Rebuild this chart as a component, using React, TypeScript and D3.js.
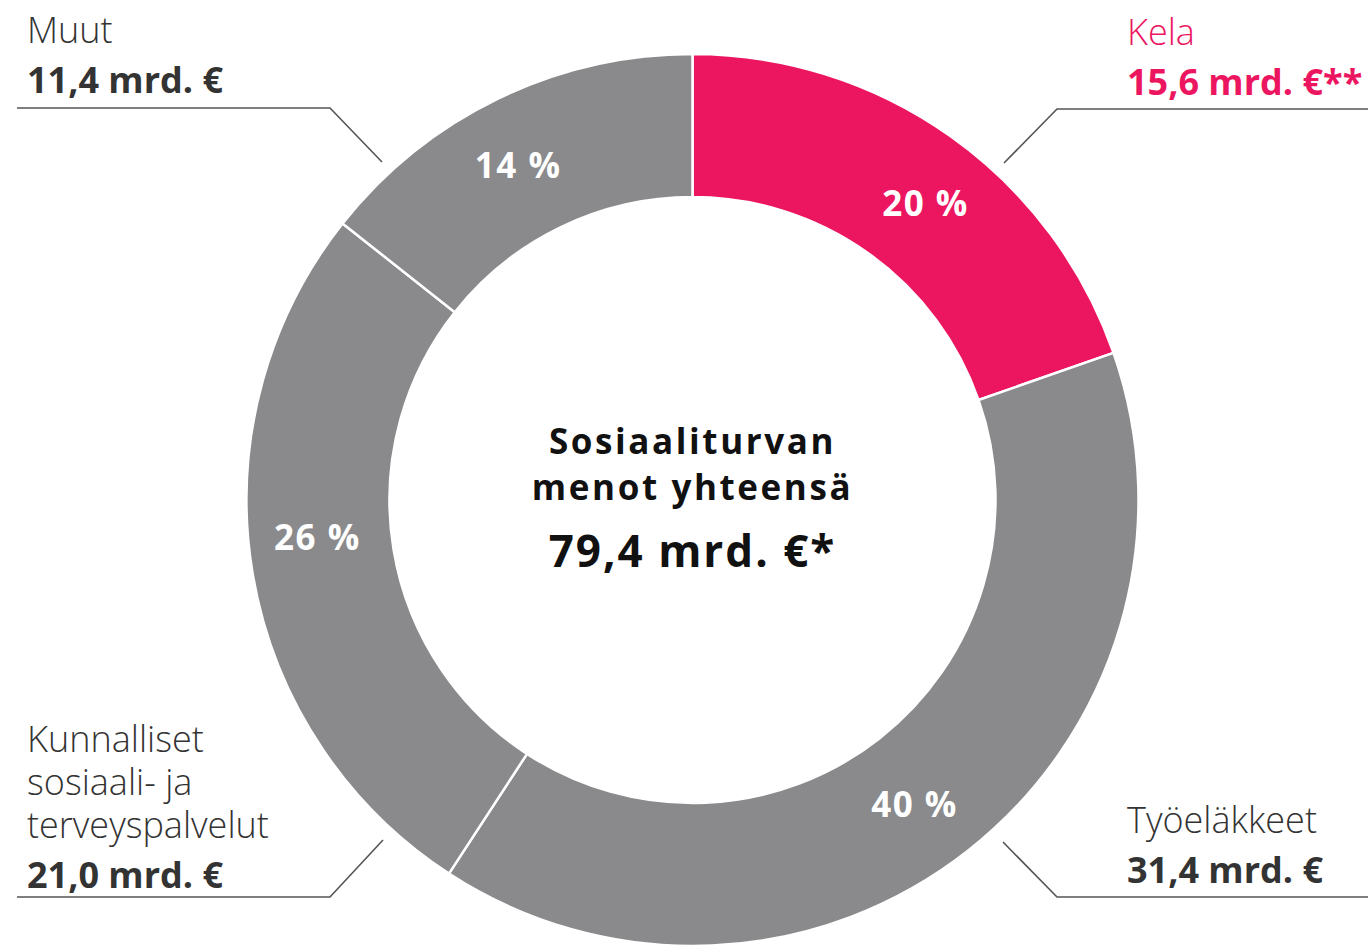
import React from "react";
import * as d3 from "d3";

const categories = ["Kela", "Työeläkkeet", "Kunnalliset sosiaali- ja terveyspalvelut", "Muut"];
const labelLines = [["Kela"], ["Työeläkkeet"], ["Kunnalliset", "sosiaali- ja", "terveyspalvelut"], ["Muut"]];
const values = [15.6, 31.4, 21.0, 11.4];
const valueLabels = ["15,6 mrd. €**", "31,4 mrd. €", "21,0 mrd. €", "11,4 mrd. €"];
const totalLabel = "79,4 mrd. €*";
const centerTitle = ["Sosiaaliturvan", "menot yhteensä"];

const W = 1369;
const H = 950;
const CX = 692.5;
const CY = 500;
const R_OUT = 446;
const R_IN = 303;
const R_LABEL = 377;
const PINK = "#ec1660";
const GRAY = "#8a8a8c";
const DARK = "#333333";
const FONT = "'Open Sans', 'Noto Sans', sans-serif";

// small angular nudges (degrees) for the in-ring percentage labels
const pctNudge = [2.8, 2.0, 3.6, -1.7];

// annotation layout (text anchor x, first baseline y, leader line points)
const annot = [
  { x: 1127, y: 45, line: [[1368, 109], [1057, 109], [1004, 163]] },
  { x: 1127, y: 833, line: [[1368, 897], [1057, 897], [1003, 842]] },
  { x: 27, y: 752, line: [[17, 897], [330, 897], [383, 840]] },
  { x: 27, y: 43, line: [[17, 108], [330, 108], [382, 162]] },
];

export default function App() {
  const total = d3.sum(values);
  const pie = d3.pie<number>().sort(null).value((d) => d).startAngle(0).endAngle(2 * Math.PI);
  const arcs = pie(values);
  const arc = d3.arc<d3.PieArcDatum<number>>().innerRadius(R_IN).outerRadius(R_OUT);
  const color = (i: number) => (i === 0 ? PINK : GRAY);
  const line = d3.line();

  return (
    <svg width={W} height={H} style={{ position: "absolute", left: 0, top: 0, background: "#fff" }}>
      <g transform={`translate(${CX},${CY})`}>
        {arcs.map((a, i) => (
          <path key={categories[i]} d={arc(a) || ""} fill={color(i)} stroke="#fff" strokeWidth={2.5} />
        ))}
        {arcs.map((a, i) => {
          const ang = (a.startAngle + a.endAngle) / 2 + (pctNudge[i] * Math.PI) / 180;
          const x = R_LABEL * Math.sin(ang);
          const y = -R_LABEL * Math.cos(ang);
          return (
            <text
              key={"p" + i}
              x={x}
              y={y}
              dy="0.36em"
              textAnchor="middle"
              fill="#fff"
              fontFamily={FONT}
              fontWeight={700}
              fontSize={35}
              letterSpacing={1.5}
            >
              {Math.round((values[i] / total) * 100) + " %"}
            </text>
          );
        })}
        <text textAnchor="middle" fontFamily={FONT} fontWeight={700} fill="#111" fontSize={35} letterSpacing={2.6}>
          <tspan x={0} y={-46}>{centerTitle[0]}</tspan>
          <tspan x={0} y={0}>{centerTitle[1]}</tspan>
        </text>
        <text x={0} y={67} textAnchor="middle" fontFamily={FONT} fontWeight={700} fill="#111" fontSize={44} letterSpacing={2}>
          {totalLabel}
        </text>
      </g>
      {annot.map((an, i) => {
        const fill = i === 0 ? PINK : DARK;
        const lines = labelLines[i];
        return (
          <g key={"a" + i}>
            <path d={line(an.line as [number, number][]) || ""} fill="none" stroke="#555" strokeWidth={1.6} />
            {lines.map((l, j) => (
              <text key={j} x={an.x} y={an.y + j * 43} fontFamily={FONT} fill={fill} fontWeight={300} fontSize={36}>
                {l}
              </text>
            ))}
            <text
              x={an.x}
              y={an.y + (lines.length - 1) * 43 + 50}
              fontFamily={FONT}
              fill={fill}
              fontWeight={700}
              fontSize={36}
            >
              {valueLabels[i]}
            </text>
          </g>
        );
      })}
    </svg>
  );
}
